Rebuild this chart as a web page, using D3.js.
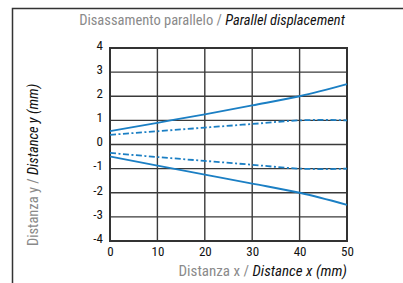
<!DOCTYPE html>
<html><head><meta charset="utf-8">
<script src="https://cdn.jsdelivr.net/npm/d3@7"></script>
<style>html,body{margin:0;padding:0;background:#fff;}</style>
</head><body>
<svg id="c" width="403" height="283"></svg>
<script>
const xs = [0, 10, 20, 30, 40, 50];
const upperSolid = [0.55, 0.9, 1.25, 1.62, 2.0, 2.5];
const lowerSolid = [-0.5, -0.88, -1.25, -1.62, -2.0, -2.5];
const xsDash = [0, 10, 20, 30, 40, 45, 50];
const upperDash = [0.4, 0.55, 0.7, 0.85, 1.0, 1.02, 1.0];
const lowerDash = [-0.35, -0.52, -0.68, -0.84, -1.0, -1.02, -1.0];
const xTicks = [0, 10, 20, 30, 40, 50];
const yTicks = [-4, -3, -2, -1, 0, 1, 2, 3, 4];
const titleGray = "Disassamento parallelo / ";
const titleItalic = "Parallel displacement";
const xLabGray = "Distanza x / ";
const xLabItalic = "Distance x (mm)";
const yLabGray = "Distanza y / ";
const yLabItalic = "Distance y (mm)";

const svg = d3.select("#c");
const font = "'Liberation Sans Narrow','Roboto Condensed','Liberation Sans',Arial,sans-serif";
const x = d3.scaleLinear().domain([0, 50]).range([110, 347]);
const y = d3.scaleLinear().domain([-4, 4]).range([241, 48]);

// frame
svg.append("path").attr("d", "M12.5,283 L12.5,8.5 L403,8.5")
  .attr("fill", "none").attr("stroke", "#333").attr("stroke-width", 1.5);

// title
const t = svg.append("text").attr("x", 212).attr("y", 25).attr("text-anchor", "middle")
  .attr("font-family", font).attr("font-size", 14.5);
t.append("tspan").attr("fill", "#8a8a8a").text(titleGray);
t.append("tspan").attr("fill", "#111").attr("font-style", "italic").text(titleItalic);

// grid
const g = svg.append("g");
g.selectAll(".gx").data(xTicks.slice(1, -1)).join("line")
  .attr("x1", d => x(d)).attr("x2", d => x(d)).attr("y1", y(4)).attr("y2", y(-4))
  .attr("stroke", "#3a3a3a").attr("stroke-width", 1.4);
g.selectAll(".gy").data(yTicks.slice(1, -1)).join("line")
  .attr("x1", x(0)).attr("x2", x(50)).attr("y1", d => y(d)).attr("y2", d => y(d))
  .attr("stroke", "#3a3a3a").attr("stroke-width", 1.4);
g.append("rect").attr("x", x(0)).attr("y", y(4)).attr("width", x(50) - x(0)).attr("height", y(-4) - y(4))
  .attr("fill", "none").attr("stroke", "#333").attr("stroke-width", 2);

// axes
const xa = svg.append("g").attr("transform", `translate(0,${y(-4)})`)
  .call(d3.axisBottom(x).tickValues(xTicks).tickSize(0).tickPadding(6).tickFormat(d3.format("d")));
const ya = svg.append("g").attr("transform", `translate(${x(0)},0)`)
  .call(d3.axisLeft(y).tickValues(yTicks).tickSize(0).tickPadding(7).tickFormat(d => d < 0 ? "-" + Math.abs(d) : d));
[xa, ya].forEach(a => {
  a.select(".domain").remove();
  a.selectAll("text").attr("font-family", font).attr("font-size", 13).attr("fill", "#111");
});
ya.selectAll("text").attr("dy", "0.1em");

// lines
const line = (xv) => d3.line().x((d, i) => x(xv[i])).y(d => y(d)).curve(d3.curveMonotoneX);
const blue = "#1b7fc4";
[upperSolid, lowerSolid].forEach(s => svg.append("path").datum(s).attr("d", line(xs))
  .attr("fill", "none").attr("stroke", blue).attr("stroke-width", 1.8));
[upperDash, lowerDash].forEach(s => svg.append("path").datum(s).attr("d", line(xsDash))
  .attr("fill", "none").attr("stroke", blue).attr("stroke-width", 1.8).attr("stroke-dasharray", "6,2.5,2,2.5"));

// x label
const xl = svg.append("text").attr("x", 347).attr("y", 276).attr("text-anchor", "end")
  .attr("font-family", font).attr("font-size", 15);
xl.append("tspan").attr("fill", "#8a8a8a").text(xLabGray);
xl.append("tspan").attr("fill", "#111").attr("font-style", "italic").text(xLabItalic);

// y label
const yl = svg.append("text").attr("transform", "translate(38,165) rotate(-90)").attr("text-anchor", "middle")
  .attr("font-family", font).attr("font-size", 14.5);
yl.append("tspan").attr("fill", "#8a8a8a").text(yLabGray);
yl.append("tspan").attr("fill", "#111").attr("font-style", "italic").text(yLabItalic);
</script>
</body></html>
